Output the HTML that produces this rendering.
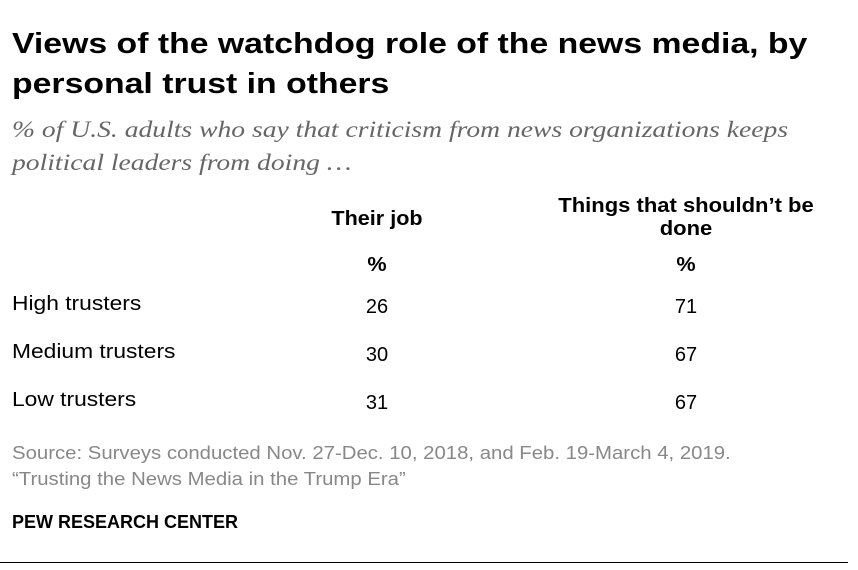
<!DOCTYPE html>
<html><head><meta charset="utf-8">
<style>
body{margin:0;background:#fff;width:858px;height:570px;position:relative;overflow:hidden;font-family:"Liberation Sans",sans-serif;color:#000}
.a{position:absolute;white-space:nowrap}
.t{font-weight:bold;font-size:29px;left:12px;transform:scaleX(1.165);transform-origin:0 0}
.s{font-family:"Liberation Serif",serif;font-style:italic;font-size:23px;color:#666;left:12px;transform:scaleX(1.2);transform-origin:0 0}
.h{font-weight:bold;font-size:20px;text-align:center;transform:translateX(-50%) scaleX(1.08)}
.r{font-size:20px;left:12px;transform:scaleX(1.14);transform-origin:0 0}
.v{font-size:20px;transform:translateX(-50%)}
.src{font-size:18px;color:#888;left:12px;transform:scaleX(1.13);transform-origin:0 0}
</style></head>
<body>
<div class="a t" style="top:28px">Views of the watchdog role of the news media, by</div>
<div class="a t" style="top:68px">personal trust in others</div>
<div class="a s" style="top:117px">% of U.S. adults who say that criticism from news organizations keeps</div>
<div class="a s" style="top:150px">political leaders from doing …</div>
<div class="a h" style="left:377px;top:208px">Their job</div>
<div class="a h" style="left:686px;top:195px;line-height:23px;transform:translateX(-50%) scaleX(1.1)">Things that shouldn’t be<br>done</div>
<div class="a h" style="left:377px;top:254px">%</div>
<div class="a h" style="left:686px;top:254px">%</div>
<div id="rows"></div>
<div class="a src" style="top:443px">Source: Surveys conducted Nov. 27-Dec. 10, 2018, and Feb. 19-March 4, 2019.</div>
<div class="a src" style="top:469px">“Trusting the News Media in the Trump Era”</div>
<div class="a" style="top:512px;left:12px;font-weight:bold;font-size:18px">PEW RESEARCH CENTER</div>
<div class="a" style="top:562px;left:0;width:848px;height:1px;background:#000"></div>
<script>
const categories=["High trusters","Medium trusters","Low trusters"];
const theirJob=[26,30,31];
const shouldntBeDone=[71,67,67];
const root=document.getElementById('rows');
categories.forEach((c,i)=>{
  const top=293+i*48;
  const l=document.createElement('div');
  l.className='a r';l.style.top=top+'px';l.textContent=c;
  
  
  root.appendChild(l);
  const a=document.createElement('div');
  a.className='a v';a.style.top=(top+3)+'px';a.style.left='377px';a.textContent=theirJob[i];
  
  
  root.appendChild(a);
  const b=document.createElement('div');
  b.className='a v';b.style.top=(top+3)+'px';b.style.left='686px';b.textContent=shouldntBeDone[i];
  
  
  root.appendChild(b);
});
</script>
</body></html>
